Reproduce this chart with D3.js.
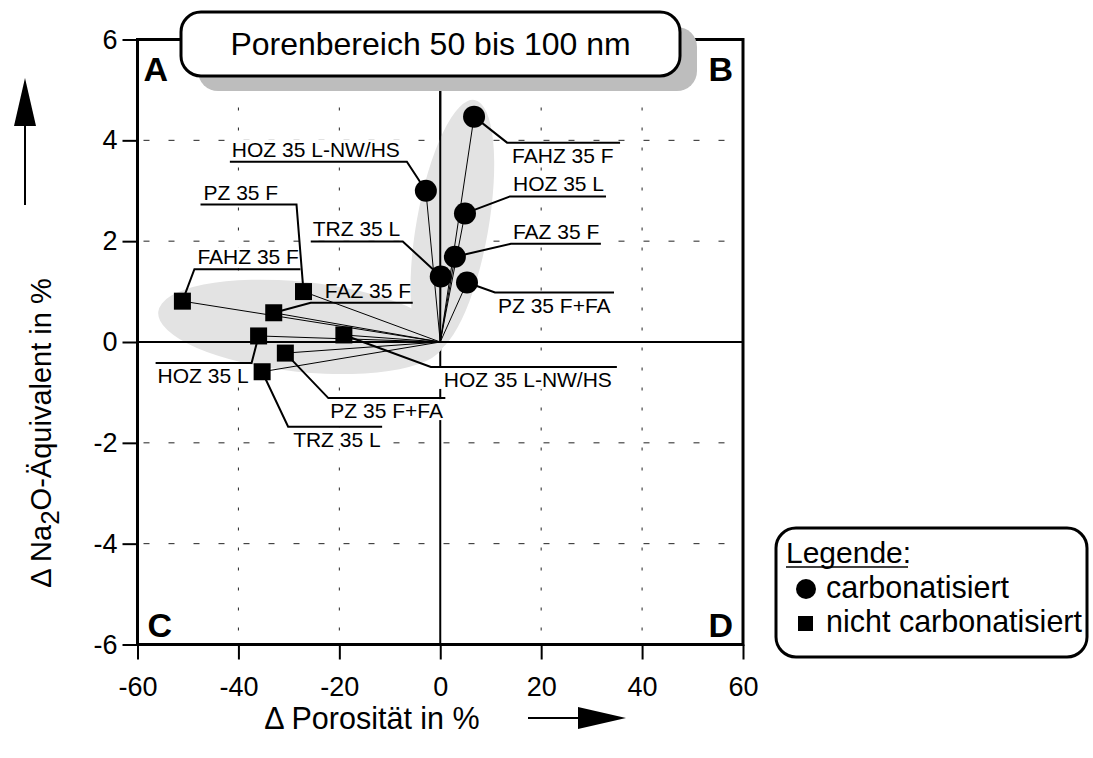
<!DOCTYPE html>
<html><head><meta charset="utf-8">
<script src="https://cdn.jsdelivr.net/npm/d3@7"></script>
<style>
html,body{margin:0;padding:0;background:#fff;}
svg{display:block;font-family:"Liberation Sans",Arial,Helvetica,sans-serif;}
</style></head>
<body>
<svg id="chart" width="1093" height="758"></svg>
<script>
// ---- data ----
const categories = ["PZ 35 F","PZ 35 F+FA","FAZ 35 F","FAHZ 35 F","HOZ 35 L","HOZ 35 L-NW/HS","TRZ 35 L"];
// carbonatisiert (circles)
const carbPorosity = [null, 5.3, 2.9, 6.7, 4.9, -2.85, 0.1];
const carbNa2O     = [null, 1.18, 1.69, 4.47, 2.55, 3.0, 1.3];
// nicht carbonatisiert (squares)
const ncPorosity = [-27.1, -30.7, -33.0, -51.1, -36.0, -19.1, -35.3];
const ncNa2O     = [1.0, -0.22, 0.58, 0.81, 0.12, 0.14, -0.59];
const xTicks = [-60,-40,-20,0,20,40,60];
const yTicks = [-6,-4,-2,0,2,4,6];
const titleText = "Porenbereich 50 bis 100 nm";
const legendTitle = "Legende:";
const legendItems = ["carbonatisiert","nicht carbonatisiert"];
const quadrantLetters = ["A","B","C","D"];

// ---- layout (pixel offsets for label leaders, not data) ----
const carbLabelLayout = [
  null,
  {dx:28, dy:10, len:119, pos:"below", off:3},
  {dx:56, dy:-13, len:90, pos:"above", off:2},
  {dx:33, dy:26, len:113, pos:"below", off:5},
  {dx:45, dy:-17, len:96, pos:"above", off:3},
  {dx:-19, dy:-29, len:-177, pos:"above", off:2},
  {dx:-38, dy:-35, len:-92, pos:"above", off:2}
];
const ncLabelLayout = [
  {dx:-7, dy:-87, len:-96, pos:"above", off:3},
  {dx:43, dy:45, len:117, pos:"below", off:2},
  {dx:37, dy:-10, len:102, pos:"above", off:14},
  {dx:12, dy:-32, len:106, pos:"above", off:3},
  {dx:-7, dy:27, len:-96, pos:"below", off:2},
  {dx:87, dy:32, len:186, pos:"below", off:13},
  {dx:26, dy:55, len:94, pos:"below", off:5}
];

const svg = d3.select("#chart");
const x = d3.scaleLinear().domain([-60,60]).range([137.5,743]);
const y = d3.scaleLinear().domain([-6,6]).range([644.5,39.5]);
const X0 = x(0), Y0 = y(0);

const carb = categories.map((c,i)=>({name:c, px:carbPorosity[i], py:carbNa2O[i], lay:carbLabelLayout[i]})).filter(d=>d.px!==null);
const nc = categories.map((c,i)=>({name:c, px:ncPorosity[i], py:ncNa2O[i], lay:ncLabelLayout[i]}));

// grid
const g = svg.append("g");
g.selectAll(".gx").data(xTicks.filter(t=>t!==0 && Math.abs(t)!==60)).enter().append("line")
  .attr("x1",d=>x(d)).attr("x2",d=>x(d)).attr("y1",y(6)).attr("y2",y(-6))
  .attr("stroke","#222").attr("stroke-width",1).attr("stroke-dasharray","3,17").attr("stroke-dashoffset",-8);
g.selectAll(".gy").data(yTicks.filter(t=>t!==0 && Math.abs(t)!==6)).enter().append("line")
  .attr("x1",x(-60)).attr("x2",x(60)).attr("y1",d=>y(d)).attr("y2",d=>y(d))
  .attr("stroke","#222").attr("stroke-width",1).attr("stroke-dasharray","6,19").attr("stroke-dashoffset",-6);
// zero axes
g.append("line").attr("x1",X0).attr("x2",X0).attr("y1",y(6)).attr("y2",y(-6)).attr("stroke","#000").attr("stroke-width",2);
g.append("line").attr("x1",x(-60)).attr("x2",x(60)).attr("y1",Y0).attr("y2",Y0).attr("stroke","#000").attr("stroke-width",2);

const labelG = svg.append("g");
function labelGeom(d){
  const mx = x(d.px), my = y(d.py);
  const ex = mx + d.lay.dx, ey = my + d.lay.dy;
  const lx = Math.min(ex, ex + d.lay.len), rx = Math.max(ex, ex + d.lay.len);
  const tx = lx + d.lay.off;
  const ty = d.lay.pos === "above" ? ey - 5 : ey + 20;
  return {mx,my,ex,ey,lx,rx,tx,ty};
}
const allLabels = carb.map(d=>Object.assign({},d,{kind:"c"})).concat(nc.map(d=>Object.assign({},d,{kind:"s"})));
allLabels.forEach(d=>{ d.geo = labelGeom(d); });

// white backgrounds behind label text
labelG.selectAll("rect.bg").data(allLabels).enter().append("rect")
  .attr("x",d=>d.geo.lx).attr("width",d=>d.geo.rx-d.geo.lx)
  .attr("y",d=>d.lay.pos==="above"? d.geo.ey-22 : d.geo.ey+1)
  .attr("height",21).attr("fill","#fff");

// gray ellipses (cluster envelopes)
svg.append("ellipse").attr("cx",x(2.4)).attr("cy",y(2.3)).attr("rx",36).attr("ry",128)
  .attr("transform",`rotate(10 ${x(2.4)} ${y(2.3)})`).attr("fill","#e3e3e3");
svg.append("ellipse").attr("cx",x(-27.5)).attr("cy",y(0.3)).attr("rx",144).attr("ry",45)
  .attr("transform",`rotate(6 ${x(-27.5)} ${y(0.3)})`).attr("fill","#e3e3e3");
// redraw zero axes segments over ellipses
svg.append("line").attr("x1",X0).attr("x2",X0).attr("y1",y(6)).attr("y2",y(0)).attr("stroke","#000").attr("stroke-width",2);
svg.append("line").attr("x1",x(-60)).attr("x2",x(60)).attr("y1",Y0).attr("y2",Y0).attr("stroke","#000").attr("stroke-width",2);

// rays to origin
svg.append("g").selectAll("line").data(allLabels).enter().append("line")
  .attr("x1",d=>x(d.px)).attr("y1",d=>y(d.py)).attr("x2",X0).attr("y2",Y0)
  .attr("stroke","#000").attr("stroke-width",1);

// leaders + underlines
const lg = svg.append("g");
lg.selectAll("polyline").data(allLabels).enter().append("polyline")
  .attr("points",d=>`${d.geo.mx},${d.geo.my} ${d.geo.ex},${d.geo.ey} ${d.geo.ex+d.lay.len},${d.geo.ey}`)
  .attr("fill","none").attr("stroke","#000").attr("stroke-width",2);
lg.selectAll("text").data(allLabels).enter().append("text")
  .attr("x",d=>d.geo.tx).attr("y",d=>d.geo.ty).attr("font-size",21).attr("fill","#000").text(d=>d.name);

// markers
svg.append("g").selectAll("circle").data(carb).enter().append("circle")
  .attr("cx",d=>x(d.px)).attr("cy",d=>y(d.py)).attr("r",11).attr("fill","#000");
svg.append("g").selectAll("rect").data(nc).enter().append("rect")
  .attr("x",d=>x(d.px)-8.5).attr("y",d=>y(d.py)-8.5).attr("width",17).attr("height",17).attr("fill","#000");

// frame
svg.append("rect").attr("x",x(-60)).attr("y",y(6)).attr("width",x(60)-x(-60)).attr("height",y(-6)-y(6))
  .attr("fill","none").attr("stroke","#000").attr("stroke-width",3);

// axes ticks
const fmt = d => String(d);
const xAxis = d3.axisBottom(x).tickValues(xTicks).tickFormat(fmt).tickSize(15).tickPadding(17);
const yAxis = d3.axisLeft(y).tickValues(yTicks).tickFormat(fmt).tickSize(15).tickPadding(5);
const xa = svg.append("g").attr("transform",`translate(0,${y(-6)})`).call(xAxis);
const ya = svg.append("g").attr("transform",`translate(${x(-60)},0)`).call(yAxis);
[xa,ya].forEach(a=>{
  a.select(".domain").remove();
  a.selectAll(".tick line").attr("stroke","#000").attr("stroke-width",2);
  a.selectAll(".tick text").attr("font-size",27).attr("fill","#000")
    .attr("font-family","Liberation Sans, Arial, sans-serif");
});
xa.selectAll(".tick text").attr("dy","0.71em");

// quadrant letters
const ql = [[x(-60)+6, y(6)+41, "start"],[x(60)-10, y(6)+41, "end"],[x(-60)+10, y(-6)-8, "start"],[x(60)-10, y(-6)-8, "end"]];
svg.append("g").selectAll("text").data(quadrantLetters).enter().append("text")
  .attr("x",(d,i)=>ql[i][0]).attr("y",(d,i)=>ql[i][1]).attr("text-anchor",(d,i)=>ql[i][2])
  .attr("font-size",34).attr("font-weight","bold").text(d=>d);

// title box with shadow
const tb = {x:181, y:12, w:499, h:64};
svg.append("rect").attr("x",tb.x+17).attr("y",tb.y+15).attr("width",tb.w).attr("height",tb.h).attr("rx",20).attr("fill","#bdbdbd");
svg.append("rect").attr("x",tb.x).attr("y",tb.y).attr("width",tb.w).attr("height",tb.h).attr("rx",20)
  .attr("fill","#fff").attr("stroke","#000").attr("stroke-width",3);
svg.append("text").attr("x",tb.x+tb.w/2).attr("y",tb.y+43).attr("text-anchor","middle").attr("font-size",32).text(titleText);

// legend
const lb = {x:776, y:528, w:311, h:129};
svg.append("rect").attr("x",lb.x).attr("y",lb.y).attr("width",lb.w).attr("height",lb.h).attr("rx",20)
  .attr("fill","#fff").attr("stroke","#000").attr("stroke-width",3);
svg.append("text").attr("x",786).attr("y",563).attr("font-size",30).text(legendTitle);
svg.append("line").attr("x1",786).attr("x2",908).attr("y1",567).attr("y2",567).attr("stroke","#000").attr("stroke-width",1.5);
svg.append("circle").attr("cx",806).attr("cy",589).attr("r",10).attr("fill","#000");
svg.append("rect").attr("x",798).attr("y",616).attr("width",15).attr("height",15).attr("fill","#000");
svg.append("g").selectAll("text").data(legendItems).enter().append("text")
  .attr("x",826).attr("y",(d,i)=>598+i*34).attr("font-size",30.5).text(d=>d);

// axis titles
const xt = svg.append("text").attr("x",372).attr("y",729).attr("text-anchor","middle").attr("font-size",30.5);
xt.append("tspan").text("\u0394 Porosität in %");
svg.append("line").attr("x1",528).attr("x2",585).attr("y1",718).attr("y2",718).attr("stroke","#000").attr("stroke-width",2);
svg.append("path").attr("d","M578,707 L626,718 L578,729 Z").attr("fill","#000");

const yt = svg.append("text").attr("transform","translate(51,433) rotate(-90)").attr("text-anchor","middle").attr("font-size",29);
yt.append("tspan").text("\u0394 Na");
yt.append("tspan").attr("dy",8).attr("font-size",26).text("2");
yt.append("tspan").attr("dy",-8).text("O-Äquivalent in %");
svg.append("line").attr("x1",25).attr("x2",25).attr("y1",205).attr("y2",118).attr("stroke","#000").attr("stroke-width",2);
svg.append("path").attr("d","M14,126 L25,78 L36,126 Z").attr("fill","#000");
</script>
</body></html>
